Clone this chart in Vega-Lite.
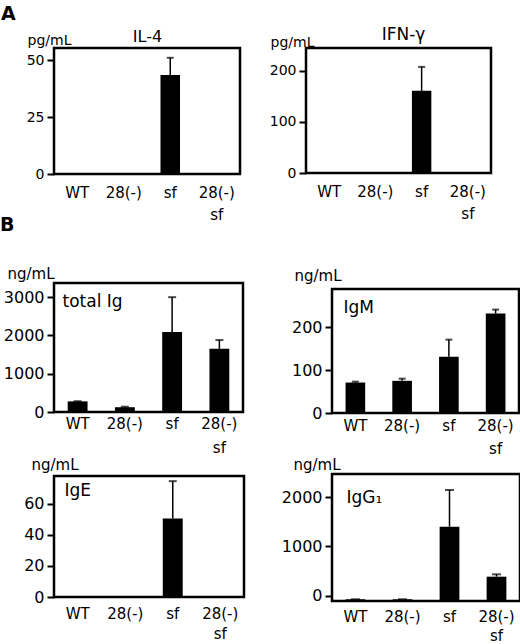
{
  "$schema": "https://vega.github.io/schema/vega-lite/v6.json",
  "padding": {"left": 0, "top": 4, "right": 0, "bottom": 0},
  "config": {
    "font": "DejaVu Sans",
    "view": {"stroke": "black", "strokeWidth": 2.5},
    "axis": {"domain": false, "grid": false, "labelColor": "black", "titleColor": "black", "titleFontWeight": "normal", "labelFont": "DejaVu Sans", "titleFont": "DejaVu Sans"},
    "axisX": {"ticks": false, "labelAngle": 0, "labelFontSize": 15, "labelLineHeight": 22, "labelOverlap": false, "labelBound": false, "titleFontSize": 16, "titleBaseline": "alphabetic"},
    "axisY": {"tickColor": "black", "tickWidth": 2, "tickSize": 7, "labelPadding": 3, "format": "d", "titleAngle": 0, "titleAlign": "left", "titleBaseline": "alphabetic", "titleFontSize": 15},
    "title": {"font": "DejaVu Sans", "fontWeight": "bold", "fontSize": 19, "anchor": "start", "frame": "group", "color": "black"}
  },
  "datasets": {
    "bars": [
      {"panel": "IL-4", "group": "sf", "mean": 43.4, "upper": 51},
      {"panel": "IFN", "group": "sf", "mean": 161, "upper": 208},
      {"panel": "total", "group": "WT", "mean": 278, "upper": 282},
      {"panel": "total", "group": "28(-)", "mean": 125, "upper": 138},
      {"panel": "total", "group": "sf", "mean": 2090, "upper": 3000},
      {"panel": "total", "group": "28(-) sf", "mean": 1650, "upper": 1880},
      {"panel": "IgM", "group": "WT", "mean": 71, "upper": 73},
      {"panel": "IgM", "group": "28(-)", "mean": 75, "upper": 80},
      {"panel": "IgM", "group": "sf", "mean": 131, "upper": 171},
      {"panel": "IgM", "group": "28(-) sf", "mean": 232, "upper": 241},
      {"panel": "IgE", "group": "sf", "mean": 50.4, "upper": 74.4},
      {"panel": "IgG1", "group": "WT", "mean": -75, "upper": -75},
      {"panel": "IgG1", "group": "28(-)", "mean": -75, "upper": -75},
      {"panel": "IgG1", "group": "sf", "mean": 1400, "upper": 2145},
      {"panel": "IgG1", "group": "28(-) sf", "mean": 384, "upper": 432}
    ]
  },
  "vconcat": [
    {
      "title": {"text": "A", "dx": -53, "offset": 0},
      "bounds": "flush",
      "spacing": 66,
      "hconcat": [
        {
          "width": 186, "height": 126,
          "data": {"name": "bars"},
          "transform": [{"filter": "datum.panel == 'IL-4'"}],
          "encoding": {
            "x": {"field": "group", "type": "nominal",
              "scale": {"domain": ["WT", "28(-)", "sf", "28(-) sf"], "paddingInner": 0.58, "paddingOuter": 0.29},
              "axis": {"title": "IL-4", "titleX": 93, "titleY": -133, "titleAlign": "center", "labelPadding": 11,
                "labelExpr": "datum.value == '28(-) sf' ? ['28(-)', 'sf\u00a0\u00a0\u00a0\u00a0\u00a0'] : datum.label"}}
          },
          "layer": [
            {"mark": {"type": "bar", "color": "black"},
             "encoding": {"y": {"field": "mean", "type": "quantitative", "scale": {"domain": [0, 55.3], "nice": false},
               "axis": {"title": "pg/mL", "values": [0, 25, 50], "labelFontSize": 14, "titleFontSize": 14, "titleX": -27, "titleY": -4}}}},
            {"mark": {"type": "rule", "color": "black", "strokeWidth": 1.5},
             "encoding": {"y": {"field": "mean", "type": "quantitative"}, "y2": {"field": "upper"}}},
            {"mark": {"type": "tick", "color": "black", "size": 7, "thickness": 2},
             "encoding": {"y": {"field": "upper", "type": "quantitative"}}}
          ]
        },
        {
          "width": 185, "height": 125,
          "data": {"name": "bars"},
          "transform": [{"filter": "datum.panel == 'IFN'"}],
          "encoding": {
            "x": {"field": "group", "type": "nominal",
              "scale": {"domain": ["WT", "28(-)", "sf", "28(-) sf"], "paddingInner": 0.58, "paddingOuter": 0.29},
              "axis": {"title": "IFN-γ", "titleX": 97, "titleY": -134, "titleAlign": "center", "titleFontSize": 17, "labelPadding": 11,
                "labelExpr": "datum.value == '28(-) sf' ? ['28(-)', 'sf\u00a0\u00a0\u00a0\u00a0\u00a0'] : datum.label"}}
          },
          "layer": [
            {"mark": {"type": "bar", "color": "black"},
             "encoding": {"y": {"field": "mean", "type": "quantitative", "scale": {"domain": [0, 245], "nice": false},
               "axis": {"title": "pg/mL", "values": [0, 100, 200], "labelFontSize": 14, "titleFontSize": 14, "titleX": -36, "titleY": -2}}}},
            {"mark": {"type": "rule", "color": "black", "strokeWidth": 1.5},
             "encoding": {"y": {"field": "mean", "type": "quantitative"}, "y2": {"field": "upper"}}},
            {"mark": {"type": "tick", "color": "black", "size": 7, "thickness": 2},
             "encoding": {"y": {"field": "upper", "type": "quantitative"}}}
          ]
        }
      ]
    },
    {
      "title": {"text": "B", "dx": -54, "offset": 30},
      "spacing": 34,
      "hconcat": [
        {
          "bounds": "flush",
          "spacing": 64,
          "vconcat": [
            {
              "width": 189, "height": 129,
              "data": {"name": "bars"},
              "transform": [{"filter": "datum.panel == 'total'"}],
              "encoding": {
                "x": {"field": "group", "type": "nominal",
                  "scale": {"domain": ["WT", "28(-)", "sf", "28(-) sf"], "paddingInner": 0.58, "paddingOuter": 0.29},
                  "axis": {"title": "total Ig", "titleX": 8, "titleY": -106, "titleAlign": "left", "titleFontSize": 17, "labelPadding": 4, "labelLineHeight": 24,
                    "labelExpr": "datum.value == '28(-) sf' ? ['28(-)', 'sf\u00a0\u00a0\u00a0\u00a0\u00a0'] : datum.label"}}
              },
              "layer": [
                {"mark": {"type": "bar", "color": "black"},
                 "encoding": {"y": {"field": "mean", "type": "quantitative", "scale": {"domain": [0, 3370], "nice": false},
                   "axis": {"title": "ng/mL", "values": [0, 1000, 2000, 3000], "labelFontSize": 16, "titleX": -47, "titleY": -5}}}},
                {"mark": {"type": "rule", "color": "black", "strokeWidth": 1.5},
                 "encoding": {"y": {"field": "mean", "type": "quantitative"}, "y2": {"field": "upper"}}},
                {"mark": {"type": "tick", "color": "black", "size": 8, "thickness": 2},
                 "encoding": {"y": {"field": "upper", "type": "quantitative"}}}
              ]
            },
            {
              "width": 190, "height": 121,
              "data": {"name": "bars"},
              "transform": [{"filter": "datum.panel == 'IgE'"}],
              "encoding": {
                "x": {"field": "group", "type": "nominal",
                  "scale": {"domain": ["WT", "28(-)", "sf", "28(-) sf"], "paddingInner": 0.58, "paddingOuter": 0.29},
                  "axis": {"title": "IgE", "titleX": 10, "titleY": -102, "titleAlign": "left", "titleFontSize": 17, "labelPadding": 9, "labelLineHeight": 20,
                    "labelExpr": "datum.value == '28(-) sf' ? ['28(-)', 'sf\u00a0\u00a0\u00a0\u00a0\u00a0'] : datum.label"}}
              },
              "layer": [
                {"mark": {"type": "bar", "color": "black"},
                 "encoding": {"y": {"field": "mean", "type": "quantitative", "scale": {"domain": [0, 77.7], "nice": false},
                   "axis": {"title": "ng/mL", "values": [0, 20, 40, 60], "labelFontSize": 16, "titleX": -23, "titleY": -7}}}},
                {"mark": {"type": "rule", "color": "black", "strokeWidth": 1.5},
                 "encoding": {"y": {"field": "mean", "type": "quantitative"}, "y2": {"field": "upper"}}},
                {"mark": {"type": "tick", "color": "black", "size": 8, "thickness": 2},
                 "encoding": {"y": {"field": "upper", "type": "quantitative"}}}
              ]
            }
          ]
        },
        {
          "spacing": -18,
          "vconcat": [
            {
              "width": 1, "height": 1,
              "view": {"stroke": null},
              "data": {"values": []},
              "mark": "point"
            },
            {
              "bounds": "flush",
              "spacing": 61,
              "vconcat": [
                {
                  "width": 187, "height": 124,
                  "data": {"name": "bars"},
                  "transform": [{"filter": "datum.panel == 'IgM'"}],
                  "encoding": {
                    "x": {"field": "group", "type": "nominal",
                      "scale": {"domain": ["WT", "28(-)", "sf", "28(-) sf"], "paddingInner": 0.58, "paddingOuter": 0.29},
                      "axis": {"title": "IgM", "titleX": 11, "titleY": -101, "titleAlign": "left", "titleFontSize": 17, "labelPadding": 5, "labelLineHeight": 23,
                        "labelExpr": "datum.value == '28(-) sf' ? ['28(-)', 'sf\u00a0\u00a0\u00a0\u00a0\u00a0'] : datum.label"}}
                  },
                  "layer": [
                    {"mark": {"type": "bar", "color": "black"},
                     "encoding": {"y": {"field": "mean", "type": "quantitative", "scale": {"domain": [0, 289], "nice": false},
                       "axis": {"title": "ng/mL", "values": [0, 100, 200], "labelFontSize": 16, "titleX": -38, "titleY": -9}}}},
                    {"mark": {"type": "rule", "color": "black", "strokeWidth": 1.5},
                     "encoding": {"y": {"field": "mean", "type": "quantitative"}, "y2": {"field": "upper"}}},
                    {"mark": {"type": "tick", "color": "black", "size": 7, "thickness": 2},
                     "encoding": {"y": {"field": "upper", "type": "quantitative"}}}
                  ]
                },
                {
                  "width": 188, "height": 127,
                  "data": {"name": "bars"},
                  "transform": [{"filter": "datum.panel == 'IgG1'"}],
                  "encoding": {
                    "x": {"field": "group", "type": "nominal",
                      "scale": {"domain": ["WT", "28(-)", "sf", "28(-) sf"], "paddingInner": 0.58, "paddingOuter": 0.29},
                      "axis": {"title": "IgG₁", "titleX": 14, "titleY": -99, "titleAlign": "left", "titleFontSize": 17, "labelPadding": 8, "labelLineHeight": 19,
                        "labelExpr": "datum.value == '28(-) sf' ? ['28(-)', 'sf\u00a0\u00a0\u00a0\u00a0\u00a0'] : datum.label"}}
                  },
                  "layer": [
                    {"mark": {"type": "bar", "color": "black"},
                     "encoding": {"y": {"field": "mean", "type": "quantitative", "scale": {"domain": [-110, 2470], "nice": false},
                       "axis": {"title": "ng/mL", "values": [0, 1000, 2000], "labelFontSize": 16, "titleX": -39, "titleY": -5}},
                       "y2": {"datum": -110}}},
                    {"mark": {"type": "rule", "color": "black", "strokeWidth": 1.5},
                     "encoding": {"y": {"field": "mean", "type": "quantitative"}, "y2": {"field": "upper"}}},
                    {"mark": {"type": "tick", "color": "black", "size": 9, "thickness": 2},
                     "encoding": {"y": {"field": "upper", "type": "quantitative"}}}
                  ]
                }
              ]
            }
          ]
        }
      ]
    }
  ],
  "spacing": -9
}
